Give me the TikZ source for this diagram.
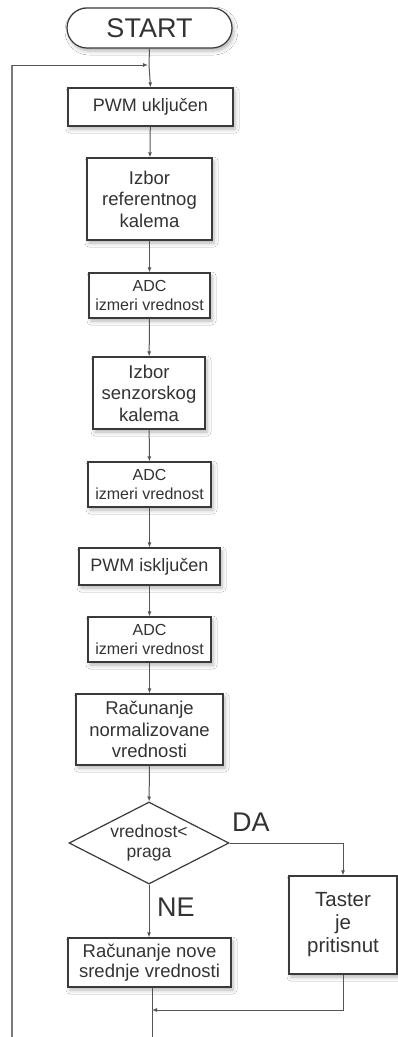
\documentclass[tikz,border=0pt]{standalone}
\usepackage{fontspec}
\setmainfont{Liberation Sans}
\usetikzlibrary{arrows.meta,shapes.geometric,shapes.misc,shadows.blur}
\definecolor{ink}{HTML}{333333}
\definecolor{edge}{HTML}{3A3A3A}
\definecolor{wire}{HTML}{555555}
\definecolor{loopc}{HTML}{7A7A7A}
\newcommand{\fs}[2]{\fontsize{#1}{#2}\selectfont}
\tikzset{
  box/.style={draw=edge, line width=1.2pt, fill=white, text=ink, align=center,
    inner sep=0pt, blur shadow={shadow xshift=2pt, shadow yshift=-3pt,
    shadow blur radius=4pt, shadow opacity=30}},
  term/.style={box, rounded rectangle},
  decide/.style={draw=edge, line width=1.2pt, fill=white, text=ink, align=center,
    diamond, inner sep=0pt},
  flow/.style={draw=wire, line width=1pt, -{Latex[length=5pt,width=4pt]}},
  plain/.style={draw=wire, line width=1pt},
  back/.style={draw=loopc, line width=1.4pt},
  tag/.style={text=ink, inner sep=0pt}
}
\begin{document}
\begin{tikzpicture}[x=1pt, y=-1pt]
\clip (0,0) rectangle (398,1037);
\fill[white] (0,0) rectangle (398,1037);

% process column
\node[term, minimum width=165pt, minimum height=40pt, font=\fs{27}{30}] (start) at (149.5,28) {START};
\node[box, minimum width=165pt, minimum height=38pt, font=\fs{18}{21}] (pwm1) at (150.5,107) {PWM uključen};
\node[box, minimum width=125pt, minimum height=82pt, font=\fs{18.5}{21.5}] (izb1) at (149.5,199) {Izbor\\referentnog\\kalema};
\node[box, minimum width=121pt, minimum height=45pt, font=\fs{16}{18.7}] (adc1) at (149.5,295.5) {ADC\\izmeri vrednost};
\node[box, minimum width=112pt, minimum height=72pt, font=\fs{18.5}{21.5}] (izb2) at (149,393) {Izbor\\senzorskog\\kalema};
\node[box, minimum width=123pt, minimum height=45pt, font=\fs{16}{18.7}] (adc2) at (149.5,484.5) {ADC\\izmeri vrednost};
\node[box, minimum width=141pt, minimum height=37pt, font=\fs{18}{21}] (pwm2) at (149.5,566.5) {PWM isključen};
\node[box, minimum width=123pt, minimum height=45pt, font=\fs{16}{18.7}] (adc3) at (149.5,639.5) {ADC\\izmeri vrednost};
\node[box, minimum width=147pt, minimum height=71pt, font=\fs{18.5}{21.5}] (norm) at (149.5,729.5) {Računanje\\normalizovane\\vrednosti};
\node[decide, minimum width=160pt, minimum height=82pt, aspect=1.95, font=\fs{17.5}{19.5}] (cmp) at (149,843) {vrednost<\\praga};
\node[box, minimum width=108pt, minimum height=98pt, font=\fs{20.5}{23}] (taster) at (343,925) {Taster\\je\\pritisnut};
\node[box, minimum width=163pt, minimum height=49pt, font=\fs{18.5}{20}] (mean) at (149.5,962.5) {Računanje nove\\srednje vrednosti};

% branch labels
\node[tag, font=\fs{27}{30}] (da) at (251,822) {DA};
\node[tag, font=\fs{27}{30}] (ne) at (176,907) {NE};

% helper points
\coordinate (entry) at (149,65);
\coordinate (merge) at (152,1010);
\coordinate (bottom) at (152,1040);
\coordinate (loopbot) at (12,1040);
\coordinate (looptop) at (12,65);

% connectors
\draw[plain] (start.south) -- (entry);
\draw[flow] (entry) -- (pwm1.north);
\draw[flow] (pwm1) -- (izb1);
\draw[flow] (izb1) -- (adc1);
\draw[flow] (adc1) -- (izb2);
\draw[flow] (izb2) -- (adc2);
\draw[flow] (adc2) -- (pwm2);
\draw[flow] (pwm2) -- (adc3);
\draw[flow] (adc3) -- (norm);
\draw[flow] (norm) -- (cmp);
\draw[flow] (cmp.south) -- (mean.north -| cmp.south);
\draw[flow] (cmp.east) -| (taster.north);
\draw[plain] ([xshift=2.5pt]mean.south) -- (bottom);
\draw[flow] (taster.south) |- (merge);
\draw[back] (loopbot) -- (looptop);
\draw[flow] (looptop) -- ([xshift=-1pt]entry);
\end{tikzpicture}
\end{document}
